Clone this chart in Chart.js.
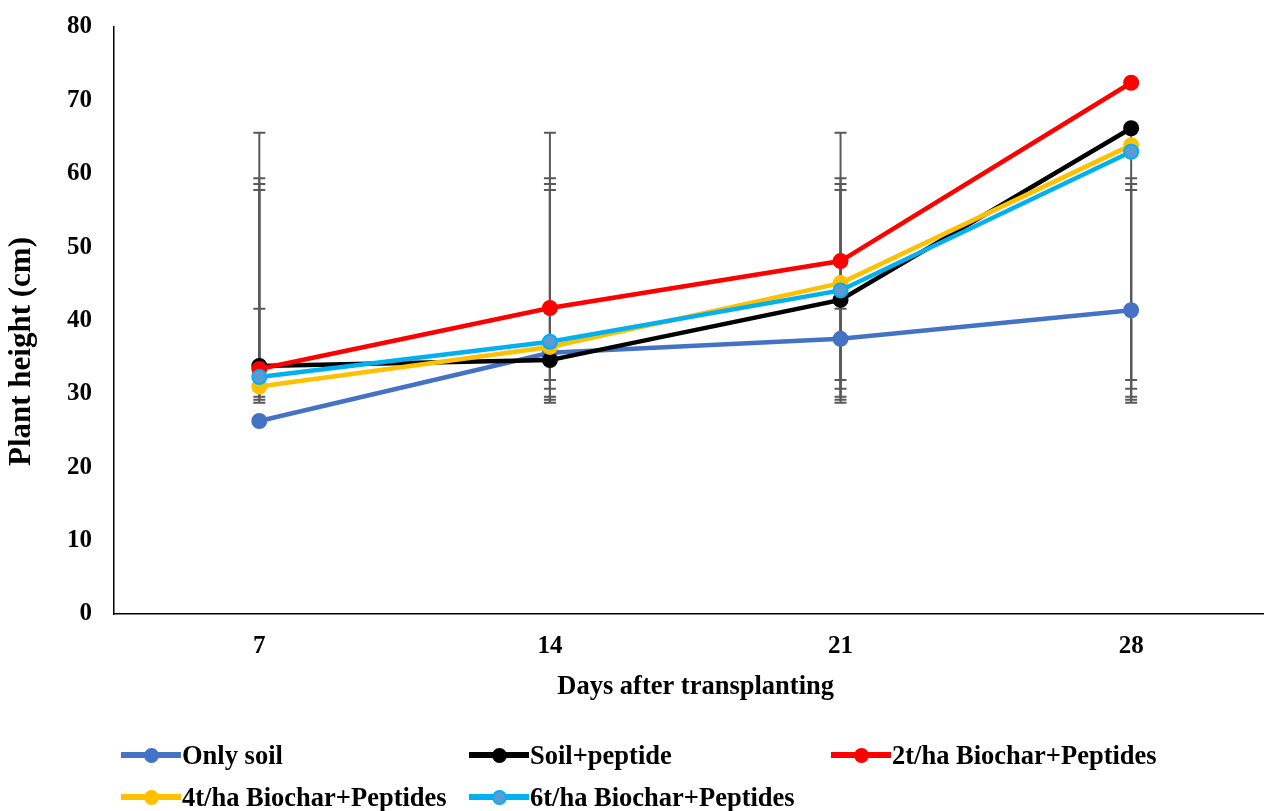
<!DOCTYPE html>
<html>
<head>
<meta charset="utf-8">
<title>Plant height</title>
<script src="https://cdn.jsdelivr.net/npm/chart.js@4/dist/chart.umd.min.js"></script>
<style>
  body { margin: 0; background: #fff; }
  #wrap { position: relative; width: 1264px; height: 811px; }
  #legend {
    position: absolute; left: 0; top: 0; width: 1264px; height: 811px; pointer-events: none;
    font-family: 'Liberation Serif', 'Times New Roman', serif; font-weight: bold; font-size: 26.5px; color: #000;
  }
  .item { position: absolute; display: flex; align-items: center; height: 30px; white-space: nowrap; }
  .swatch { position: relative; width: 60px; height: 30px; margin-right: 1px; }
  .swatch .ln { position: absolute; left: 0; right: 0; top: 12px; height: 6px; }
  .swatch .dot { position: absolute; left: 23px; top: 8px; width: 11px; height: 11px; border-radius: 50%; border: 2px solid; }
</style>
</head>
<body>
<div id="wrap">
  <canvas id="chart" width="1264" height="811"></canvas>
  <div id="legend"></div>
</div>
<script>
const days = [7, 14, 21, 28];
const seriesNames = ['Only soil', 'Soil+peptide', '2t/ha Biochar+Peptides', '4t/ha Biochar+Peptides', '6t/ha Biochar+Peptides'];
const onlySoil = [26.3, 35.6, 37.5, 41.4];
const soilPeptide = [33.8, 34.6, 42.8, 66.2];
const biochar2t = [33.4, 41.7, 48.1, 72.4];
const biochar4t = [31.0, 36.4, 45.1, 63.9];
const biochar6t = [32.3, 37.1, 44.1, 63.0];
// error bar ends per series (same at every day)
const errLow = [28.8, 29.2, 31.9, 29.6, 30.7];
const errHigh = [41.6, 59.4, 65.6, 58.6, 57.8];
const yTicks = [0, 10, 20, 30, 40, 50, 60, 70, 80];

const lineColors = ['#4472C4', '#000000', '#FF0000', '#FFC000', '#00B0F0'];
const dotColors = ['#4472C4', '#000000', '#FF0000', '#FFC000', '#5B9BD5'];
const allValues = [onlySoil, soilPeptide, biochar2t, biochar4t, biochar6t];

const font = "'Liberation Serif', 'Times New Roman', serif";
const nb = '\u00A0';

const datasets = allValues.map((vals, i) => ({
  label: seriesNames[i],
  data: vals.map((v, j) => ({ x: days[j], y: v })),
  borderColor: lineColors[i],
  backgroundColor: dotColors[i],
  pointBackgroundColor: dotColors[i],
  pointBorderColor: lineColors[i],
  pointBorderWidth: 2,
  pointRadius: 7,
  borderWidth: 4.5,
  tension: 0,
  order: allValues.length - i // later series on top
}));

const errorBars = {
  id: 'errorBars',
  beforeDatasetsDraw(chart) {
    const ctx = chart.ctx;
    const xs = chart.scales.x;
    const ys = chart.scales.y;
    ctx.save();
    ctx.strokeStyle = '#595959';
    ctx.lineWidth = 2;
    errLow.forEach((lo, i) => {
      days.forEach(d => {
        const px = xs.getPixelForValue(d);
        const y1 = ys.getPixelForValue(lo);
        const y2 = ys.getPixelForValue(errHigh[i]);
        ctx.beginPath();
        ctx.moveTo(px, y1); ctx.lineTo(px, y2);
        ctx.moveTo(px - 6, y1); ctx.lineTo(px + 6, y1);
        ctx.moveTo(px - 6, y2); ctx.lineTo(px + 6, y2);
        ctx.stroke();
      });
    });
    ctx.restore();
  }
};

const chart = new Chart(document.getElementById('chart'), {
  type: 'line',
  data: { datasets: datasets },
  options: {
    responsive: false,
    animation: false,
    layout: { autoPadding: false, padding: { top: 27, right: 0, bottom: 91, left: 0 } },
    plugins: { legend: { display: false }, tooltip: { enabled: false } },
    scales: {
      x: {
        type: 'linear',
        min: 3.5,
        max: 31.2,
        afterBuildTicks: scale => { scale.ticks = days.map(v => ({ value: v })); },
        afterFit: scale => { scale.height = 106; scale.paddingLeft = 0; scale.paddingRight = 0; },
        grid: { display: false, drawTicks: false },
        border: { display: true, color: '#000', width: 1.5 },
        ticks: { color: '#000', padding: 18, maxRotation: 0, font: { family: font, size: 25, weight: 'bold' } },
        title: { display: true, text: nb + nb + 'Days after transplanting', color: '#000', padding: { top: 0, bottom: 17 }, font: { family: font, size: 26.5, weight: 'bold' } }
      },
      y: {
        min: 0,
        max: 80,
        afterBuildTicks: scale => { scale.ticks = yTicks.map(v => ({ value: v })); },
        afterFit: scale => { scale.width = 114; scale.paddingTop = 0; scale.paddingBottom = 0; },
        grid: { display: false, drawTicks: false },
        border: { display: true, color: '#000', width: 1.5 },
        ticks: { color: '#000', padding: 22, font: { family: font, size: 25, weight: 'bold' } },
        title: { display: true, text: 'Plant height (cm)' + nb.repeat(8), color: '#000', padding: { top: 3, bottom: 0 }, font: { family: font, size: 31, weight: 'bold' } }
      }
    }
  },
  plugins: [errorBars]
});

// legend laid out in Excel-like columns
const legendPos = [[121, 740], [469, 740], [831, 740], [121, 782], [469, 782]];
const legendEl = document.getElementById('legend');
chart.data.datasets.forEach((ds, i) => {
  const item = document.createElement('div');
  item.className = 'item';
  item.style.left = legendPos[i][0] + 'px';
  item.style.top = legendPos[i][1] + 'px';
  item.innerHTML = '<div class="swatch"><div class="ln" style="background:' + lineColors[i] + '"></div>' +
    '<div class="dot" style="background:' + dotColors[i] + ';border-color:' + lineColors[i] + '"></div></div>' +
    '<span>' + ds.label + '</span>';
  legendEl.appendChild(item);
});
</script>
</body>
</html>
